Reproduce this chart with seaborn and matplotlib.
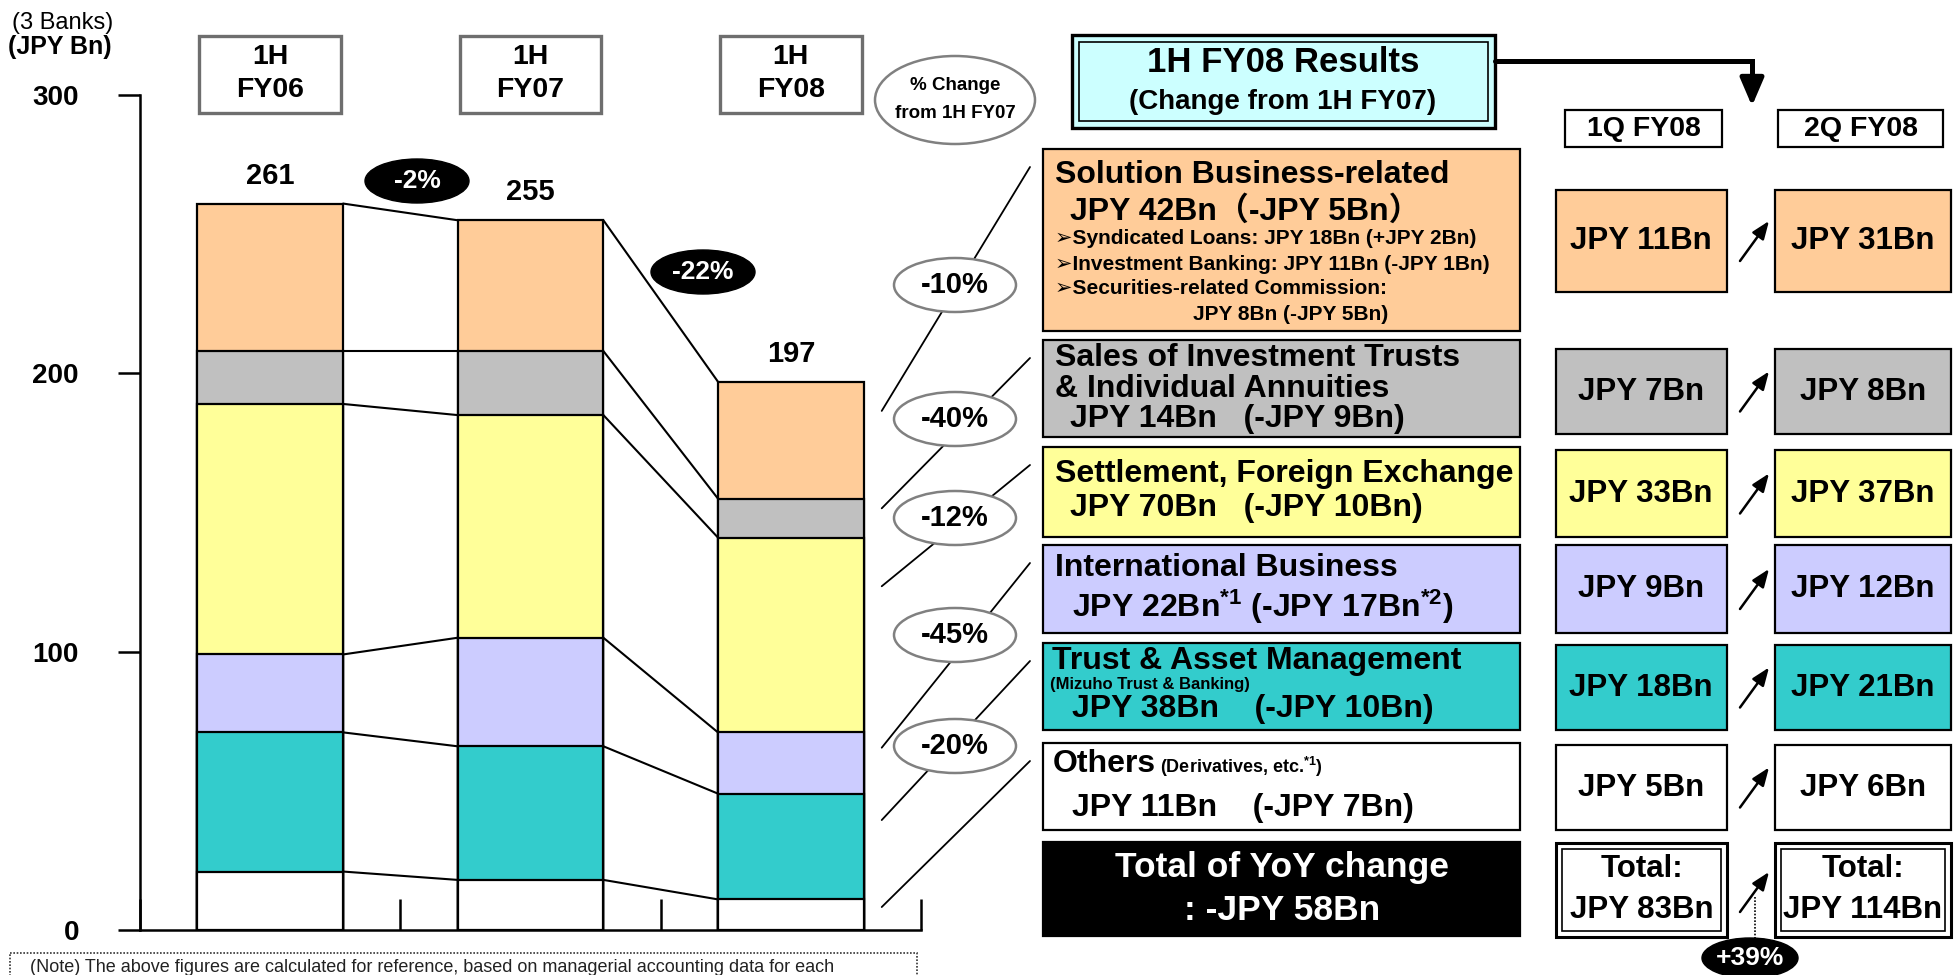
import numpy as np
import matplotlib
matplotlib.use("Agg")
import matplotlib.pyplot as plt
from matplotlib.patches import Rectangle, Ellipse
import seaborn as sns

# ---- data: fee income of the 3 banks, JPY Bn ----
periods = ["1H FY06", "1H FY07", "1H FY08"]
others = [21, 18, 11]
trust_am = [50, 48, 38]
international = [28, 39, 22]
settlement = [90, 80, 70]
inv_trusts = [19, 23, 14]
solution = [53, 47, 42]
totals = [261, 255, 197]
period_change = ["-2%", "-22%"]

# right-hand panel, top to bottom (solution ... others)
seg_change = ["-10%", "-40%", "-12%", "-45%", "-20%"]
q1_values = [11, 7, 33, 9, 18, 5]
q2_values = [31, 8, 37, 12, 21, 6]
q1_total = 83
q2_total = 114
q_change = "+39%"
yoy_total = 58

colors = ["#FFFFFF", "#33CCCC", "#CCCCFF", "#FFFF99", "#C0C0C0", "#FFCC99"]

W, H = 1957, 975
sns.set_theme(style="ticks")
plt.rcParams["font.family"] = ["Liberation Sans", "Noto Sans CJK JP", "DejaVu Sans"]
plt.rcParams["mathtext.fontset"] = "custom"
plt.rcParams["mathtext.rm"] = "Liberation Sans"
plt.rcParams["mathtext.bf"] = "Liberation Sans:bold"
plt.rcParams["mathtext.default"] = "bf"
plt.rcParams["text.color"] = "black"

fig = plt.figure(figsize=(W / 100, H / 100), dpi=100)
ax = fig.add_axes([140 / W, (H - 930) / H, (921 - 140) / W, (930 - 95) / H])
ax.patch.set_alpha(0)

# stacked bars: draw cumulative heights from the top layer down
stack = np.cumsum([others, trust_am, international, settlement, inv_trusts, solution], axis=0)
bw = 0.56
for k in range(len(stack) - 1, -1, -1):
    sns.barplot(x=periods, y=stack[k], color=colors[k], width=bw, saturation=1,
                edgecolor="black", linewidth=1.6, errorbar=None, ax=ax)

# connector lines between the bars
for i in range(len(periods) - 1):
    for lvl in stack:
        ax.plot([i + bw / 2, i + 1 - bw / 2], [lvl[i], lvl[i + 1]], color="black", lw=1.5)

for i, t in enumerate(totals):
    ax.text(i, t + 10, str(t), ha="center", va="center", fontsize=21, fontweight="bold")

ax.set_xlim(-0.5, 2.5)
ax.set_ylim(0, 300)
ax.set_yticks([0, 100, 200, 300])
ax.set_yticklabels(["0", "100", "200", "300"], fontsize=20, fontweight="bold")
ax.set_xticks([-0.5, 0.5, 1.5, 2.5])
ax.set_xticklabels([])
ax.set_xlabel("")
ax.set_ylabel("")
ax.tick_params(axis="y", direction="out", length=16, width=1.8, pad=28, colors="black", left=True)
ax.tick_params(axis="x", direction="in", length=22, width=1.8, colors="black", bottom=True)
for s in ["top", "right"]:
    ax.spines[s].set_visible(False)
for s in ["left", "bottom"]:
    ax.spines[s].set_linewidth(1.8)
    ax.spines[s].set_color("black")

# overlay in pixel coordinates for the annotation boxes
ov = fig.add_axes([0, 0, 1, 1], zorder=5)
ov.set_xlim(0, W)
ov.set_ylim(H, 0)
ov.axis("off")


def to_px(x, y):
    X, Y = ax.transData.transform((x, y))
    return X, H - Y


def txt(x, y, s, size, ha="left", color="black", weight="bold"):
    ov.text(x, y, s, ha=ha, va="center", fontsize=size, fontweight=weight, color=color)


ov.text(12, 23, "(3 Banks)", va="center", fontsize=17)
ov.text(8, 47, "(JPY Bn)", va="center", fontsize=18, fontweight="bold")

# period header boxes
for i, p in enumerate(periods):
    x0, _ = to_px(i - bw / 2, 0)
    x1, _ = to_px(i + bw / 2, 0)
    ov.add_patch(Rectangle((x0 + 2, 36), x1 - x0 - 4, 77, facecolor="white",
                           edgecolor="#6e6e6e", lw=2.4))
    a, b = p.split(" ")
    txt((x0 + x1) / 2, 57, a, 20.5, ha="center")
    txt((x0 + x1) / 2, 90, b, 20.5, ha="center")

# period-over-period change badges
for (cx, cy), lab in zip([(417, 181), (703, 272)], period_change):
    ov.add_patch(Ellipse((cx, cy), 104, 44, facecolor="black", edgecolor="black"))
    txt(cx, cy, lab, 19, ha="center", color="white")

ov.add_patch(Ellipse((955, 100), 160, 88, facecolor="white", edgecolor="#808080", lw=1.8))
txt(955, 86, "% Change", 13.5, ha="center")
txt(955, 113, "from 1H FY07", 13.5, ha="center")

# title box with elbow arrow
ov.add_patch(Rectangle((1072, 35), 423, 93, facecolor="#CCFFFF", edgecolor="black", lw=2.4))
ov.add_patch(Rectangle((1079, 42), 409, 79, fill=False, edgecolor="black", lw=1.2))
txt(1283, 63, "1H FY08 Results", 25, ha="center")
txt(1283, 102, "(Change from 1H FY07)", 20, ha="center")
ov.plot([1495, 1752, 1752], [61, 61, 88], color="black", lw=3.6, solid_joinstyle="miter")
ov.annotate("", xy=(1752, 106), xytext=(1752, 86),
            arrowprops=dict(arrowstyle="-|>,head_length=1.4,head_width=0.6", color="black",
                            lw=3.6, shrinkA=0, shrinkB=0))

for x0, x1, lab in [(1565, 1722, "1Q FY08"), (1778, 1943, "2Q FY08")]:
    ov.add_patch(Rectangle((x0, 110), x1 - x0, 37, facecolor="white", edgecolor="black", lw=1.6))
    txt((x0 + x1) / 2, 129, lab, 20.5, ha="center")

# segment boxes (left column of the right panel)
rows = [(149, 331), (340, 437), (447, 537), (545, 633), (643, 730), (743, 830)]
qrows = [(190, 292), (349, 434), (450, 537), (545, 633), (645, 730), (745, 830)]
box_colors = colors[::-1]
for (top, bot), c in zip(rows, box_colors):
    ov.add_patch(Rectangle((1043, top), 477, bot - top, facecolor=c, edgecolor="black", lw=1.6))

txt(1055, 175, "Solution Business-related", 23)
txt(1070, 211, f"JPY {solution[2]}Bn（-JPY {solution[1] - solution[2]}Bn）", 23)
txt(1055, 239, "➢Syndicated Loans: JPY 18Bn (+JPY 2Bn)", 15)
txt(1055, 264, "➢Investment Banking: JPY 11Bn (-JPY 1Bn)", 15)
txt(1055, 289, "➢Securities-related Commission:", 15)
txt(1193, 314, "JPY 8Bn (-JPY 5Bn)", 15)

txt(1055, 358, "Sales of Investment Trusts", 23)
txt(1055, 389, "& Individual Annuities", 23)
txt(1070, 419, f"JPY {inv_trusts[2]}Bn   (-JPY {inv_trusts[1] - inv_trusts[2]}Bn)", 23)

txt(1055, 474, "Settlement, Foreign Exchange", 23)
txt(1070, 508, f"JPY {settlement[2]}Bn   (-JPY {settlement[1] - settlement[2]}Bn)", 23)

txt(1055, 568, "International Business", 23)
txt(1072, 607, f"JPY {international[2]}Bn$^{{*1}}$ (-JPY {international[1] - international[2]}Bn$^{{*2}}$)", 23)

txt(1052, 661, "Trust & Asset Management", 23)
txt(1050, 685, "(Mizuho Trust & Banking)", 12)
txt(1072, 709, f"JPY {trust_am[2]}Bn    (-JPY {trust_am[1] - trust_am[2]}Bn)", 23)

txt(1053, 764, "Others", 23)
txt(1160, 767, "(Derivatives, etc.$^{*1}$)", 13)
txt(1072, 808, f"JPY {others[2]}Bn    (-JPY {others[1] - others[2]}Bn)", 23)

ov.add_patch(Rectangle((1043, 842), 477, 94, facecolor="black", edgecolor="black", lw=1.6))
txt(1282, 868, "Total of YoY change", 25.5, ha="center", color="white")
txt(1282, 911, f": -JPY {yoy_total}Bn", 25.5, ha="center", color="white")

# leader lines from the FY08 bar to the boxes, with % change ellipses
bottoms = np.concatenate([[0], stack[:-1, 2]])
heights = stack[:, 2] - bottoms
starts = (bottoms + 0.75 * heights)[::-1]
for (top, bot), yv in zip(rows, starts):
    sx, sy = to_px(2 + bw / 2, yv)
    ov.plot([sx + 18, 1030], [sy, top + 18], color="black", lw=1.3)

for cy, lab in zip([285, 419, 518, 635, 746], seg_change):
    ov.add_patch(Ellipse((955, cy), 122, 54, facecolor="white", edgecolor="#808080", lw=1.8, zorder=3))
    ov.text(955, cy, lab, ha="center", va="center", fontsize=21, fontweight="bold", zorder=4)

# quarterly boxes
for (top, bot), c, v1, v2 in zip(qrows, box_colors, q1_values, q2_values):
    mid = (top + bot) / 2
    ov.add_patch(Rectangle((1556, top), 171, bot - top, facecolor=c, edgecolor="black", lw=1.6))
    ov.add_patch(Rectangle((1775, top), 176, bot - top, facecolor=c, edgecolor="black", lw=1.6))
    txt(1641, mid, f"JPY {v1}Bn", 22.5, ha="center")
    txt(1863, mid, f"JPY {v2}Bn", 22.5, ha="center")
    ov.annotate("", xy=(1769, mid - 20), xytext=(1740, mid + 20),
                arrowprops=dict(arrowstyle="-|>,head_length=0.9,head_width=0.35", color="black",
                                lw=1.8, shrinkA=0, shrinkB=0))

for x0, w, v in [(1556, 171, q1_total), (1775, 176, q2_total)]:
    ov.add_patch(Rectangle((x0, 843), w, 94, facecolor="white", edgecolor="black", lw=2.2))
    ov.add_patch(Rectangle((x0 + 6, 849), w - 12, 82, fill=False, edgecolor="black", lw=1.2))
    txt(x0 + w / 2, 869, "Total:", 22.5, ha="center")
    txt(x0 + w / 2, 910, f"JPY {v}Bn", 22.5, ha="center")
ov.annotate("", xy=(1769, 872), xytext=(1740, 912),
            arrowprops=dict(arrowstyle="-|>,head_length=0.9,head_width=0.35", color="black",
                            lw=1.8, shrinkA=0, shrinkB=0))
ov.plot([1755, 1755], [897, 940], color="black", lw=1.2, linestyle=(0, (1, 1)))
ov.add_patch(Ellipse((1750, 958), 96, 40, facecolor="black", edgecolor="black"))
txt(1750, 958, q_change, 19, ha="center", color="white")

# note box, reaching the bottom edge
ov.add_patch(Rectangle((10, 953), 907, 60, fill=False, edgecolor="#333333", lw=1.2,
                       linestyle=(0, (1, 1))))
ov.text(30, 959, "(Note) The above figures are calculated for reference, based on managerial "
        "accounting data for each", va="top", fontsize=13, color="#222222")

fig.savefig("out.png", dpi=100)
